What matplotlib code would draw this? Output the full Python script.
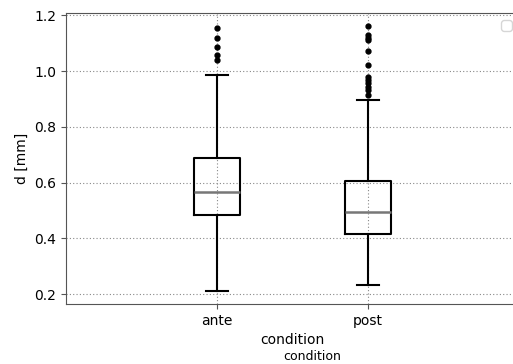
import matplotlib
matplotlib.use("Agg")
import matplotlib.pyplot as plt

conditions = ["ante", "post"]
positions = [1, 2]

# box statistics (d in mm)
q1 = [0.485, 0.414]
medians = [0.567, 0.495]
q3 = [0.690, 0.607]
whisker_low = [0.212, 0.232]
whisker_high = [0.985, 0.896]
fliers_ante = [1.155, 1.119, 1.087, 1.057, 1.039]
fliers_post = [1.161, 1.129, 1.120, 1.113, 1.071, 1.021, 0.978, 0.968, 0.956, 0.942, 0.932, 0.914]

stats = []
for i, name in enumerate(conditions):
    stats.append({
        "label": name,
        "q1": q1[i],
        "med": medians[i],
        "q3": q3[i],
        "whislo": whisker_low[i],
        "whishi": whisker_high[i],
        "fliers": [fliers_ante, fliers_post][i],
    })

fig = plt.figure(figsize=(5.13, 3.64), dpi=100)
# the right side of the axes runs past the picture edge, as in the original
ax = fig.add_axes([66 / 513, 60 / 364, 453 / 513, 291 / 364])

ax.bxp(
    stats,
    positions=positions,
    widths=0.3,
    boxprops=dict(color="black", linewidth=1.5),
    whiskerprops=dict(color="black", linewidth=1.5),
    capprops=dict(color="black", linewidth=1.5),
    medianprops=dict(color="#777777", linewidth=1.8),
    flierprops=dict(marker="o", markerfacecolor="black", markeredgecolor="black", markersize=3.5),
)

ax.set_xlim(0, 3)
ax.set_xticks(positions)
ax.set_xticklabels(conditions)
ax.set_xlabel("condition")
ax.set_ylabel("d [mm]")
ax.grid(True, linestyle=(0, (1, 2)), color="#888888", linewidth=0.8)
ax.set_axisbelow(True)
for s in ax.spines.values():
    s.set_color("#555555")
ax.spines["right"].set_visible(False)
ax.tick_params(color="#555555")
ax.legend(handles=[], loc="upper right")

fig.text(312 / 513, 7 / 364, "condition", ha="center", va="center", fontsize=9)

fig.savefig("out.png", dpi=100)
